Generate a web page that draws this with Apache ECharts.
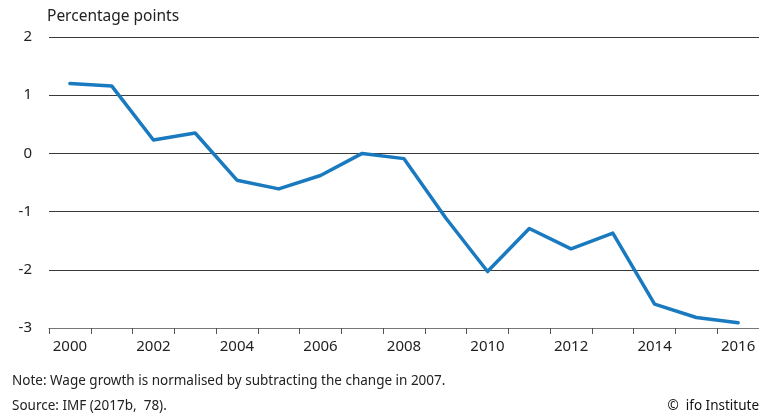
<!DOCTYPE html>
<html>
<head>
<meta charset="utf-8">
<script src="https://cdn.jsdelivr.net/npm/echarts@6/dist/echarts.min.js"></script>
<style>html,body{margin:0;padding:0;background:#fff}#c{width:759px;height:414px}</style>
</head>
<body>
<div id="c"></div>
<script>
var years = ['2000','2001','2002','2003','2004','2005','2006','2007','2008','2009','2010','2011','2012','2013','2014','2015','2016'];
var wageGrowth = [1.20, 1.16, 0.23, 0.35, -0.46, -0.61, -0.38, 0.0, -0.09, -1.11, -2.03, -1.29, -1.64, -1.37, -2.59, -2.82, -2.91];
var yTicks = { min: -3, max: 2, interval: 1 };
var unitLabel = 'Percentage points';
var noteText = 'Note: Wage growth is normalised by subtracting the change in 2007.';
var sourceText = 'Source: IMF (2017b,  78).';
var creditText = '\u00A9  ifo Institute';

var FONT = 'Noto Sans';
var chart = echarts.init(document.getElementById('c'), null, {renderer: 'canvas'});
chart.setOption({
  animation: false,
  backgroundColor: '#fff',
  textStyle: { fontFamily: FONT },
  grid: { left: 49, right: 0, top: 37, bottom: 86, containLabel: false },
  xAxis: {
    type: 'category',
    data: years,
    boundaryGap: true,
    axisLine: { onZero: false, lineStyle: { color: '#777', width: 1 } },
    axisTick: { show: true, interval: 0, length: 6, lineStyle: { color: '#555' } },
    axisLabel: { interval: 1, color: '#222', fontSize: 15, fontFamily: FONT, margin: 11 },
    splitLine: { show: false }
  },
  yAxis: {
    type: 'value',
    min: yTicks.min, max: yTicks.max, interval: yTicks.interval,
    axisLine: { show: false },
    axisTick: { show: false },
    axisLabel: { color: '#222', fontSize: 15, fontFamily: FONT, margin: 17 },
    splitLine: { show: true, lineStyle: { color: '#3a3a3a', width: 1 } }
  },
  series: [{
    type: 'line',
    data: wageGrowth,
    symbol: 'none',
    lineStyle: { color: '#1a7abf', width: 3.5, cap: 'round', join: 'round' },
    z: 3
  }],
  graphic: [
    { type: 'text', left: 47, top: 9, style: { text: unitLabel, fill: '#222', font: '15.5px "Noto Sans"' } },
    { type: 'text', left: 12, top: 374, style: { text: noteText, fill: '#222', font: '13.5px "Noto Sans"' } },
    { type: 'text', left: 12, top: 399, style: { text: sourceText, fill: '#222', font: '13.5px "Noto Sans"' } },
    { type: 'text', right: 0, top: 399, style: { text: creditText, fill: '#111', font: '13.5px "Noto Sans"' } }
  ]
});
</script>
</body>
</html>
